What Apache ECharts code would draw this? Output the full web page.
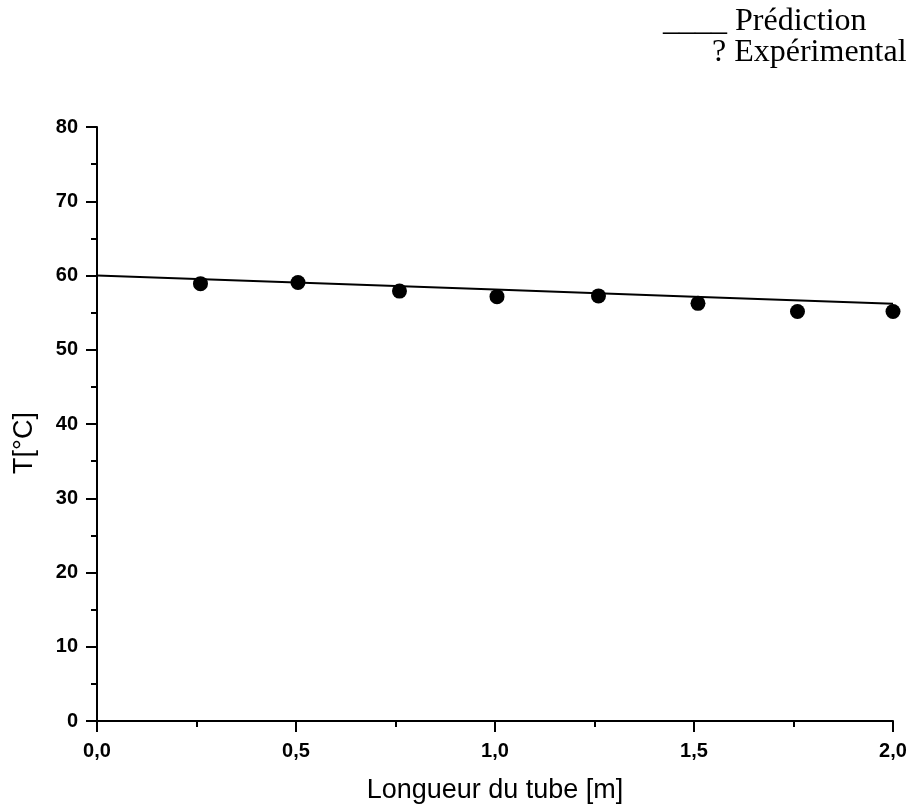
<!DOCTYPE html>
<html>
<head>
<meta charset="utf-8">
<script src="https://cdn.jsdelivr.net/npm/echarts@6/dist/echarts.min.js"></script>
<style>
html,body{margin:0;padding:0;background:#fff;}
#c{width:917px;height:812px;}
</style>
</head>
<body>
<div id="c"></div>
<script>
// Data
var expX = [0.26, 0.505, 0.76, 1.005, 1.26, 1.51, 1.76, 2.0];
var expY = [58.9, 59.05, 57.9, 57.15, 57.25, 56.25, 55.15, 55.15];
var predX = [0.0, 0.5, 1.0, 1.5, 2.0];
var predY = [60.0, 59.05, 58.1, 57.15, 56.2];
var xTitle = 'Longueur du tube [m]';
var yTitle = 'T[°C]';
var legendPred = '____ Prédiction';
var legendExp = '? Expérimental';

function pairs(xs, ys){ return xs.map(function(x,i){ return [x, ys[i]]; }); }

var sans = '"Liberation Sans", Arial, sans-serif';
var serif = '"Liberation Serif", "Times New Roman", serif';
var chart = echarts.init(document.getElementById('c'), null, {renderer:'canvas'});
var axisCommon = {
  axisLine:{show:true, lineStyle:{color:'#000', width:2}},
  axisTick:{show:true, inside:false, length:11, lineStyle:{color:'#000', width:2}},
  minorTick:{show:true, splitNumber:2, length:6, lineStyle:{color:'#000', width:2}},
  splitLine:{show:false},
  axisLabel:{color:'#000', fontFamily:sans, fontSize:20, fontWeight:'bold'}
};
chart.setOption({
  animation:false,
  backgroundColor:'#fff',
  grid:{left:97, top:127, right:24, bottom:91, containLabel:false},
  xAxis: Object.assign({}, axisCommon, {
    type:'value', min:0, max:2, interval:0.5,
    axisLabel: Object.assign({}, axisCommon.axisLabel, {margin:20,
      formatter:function(v){ return v.toFixed(1).replace('.', ','); }}),
    name: xTitle, nameLocation:'middle', nameGap:56,
    nameTextStyle:{color:'#000', fontFamily:sans, fontSize:27}
  }),
  yAxis: Object.assign({}, axisCommon, {
    type:'value', min:0, max:80, interval:10,
    axisLabel: Object.assign({}, axisCommon.axisLabel, {margin:19}),
    name: yTitle, nameLocation:'middle', nameGap:59, nameRotate:90,
    nameTextStyle:{color:'#000', fontFamily:sans, fontSize:27, padding:[0, 38, 0, 0]}
  }),
  series:[
    {type:'line', data:pairs(predX, predY), showSymbol:false, symbol:'none',
     lineStyle:{color:'#000', width:2}, z:2},
    {type:'scatter', data:pairs(expX, expY), symbol:'circle', symbolSize:15,
     itemStyle:{color:'#000', opacity:1}, z:3}
  ],
  graphic:[
    {type:'text', x:663, y:6, style:{text:legendPred, fill:'#000',
      font:'32px ' + serif}},
    {type:'text', x:712, y:37, style:{text:legendExp, fill:'#000',
      font:'32px ' + serif}}
  ]
});
</script>
</body>
</html>
